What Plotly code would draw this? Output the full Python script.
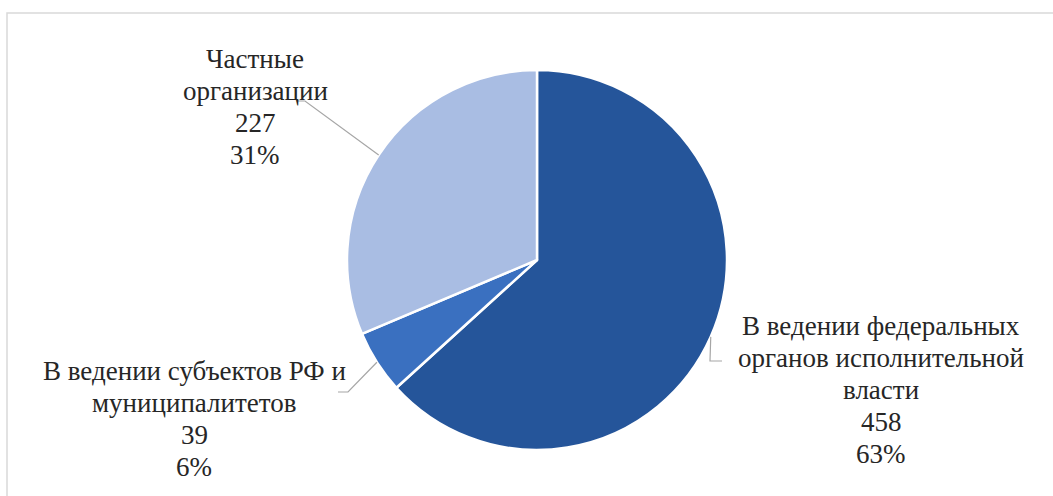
import math
import plotly.graph_objects as go

# ---- data ----
categories = [
    "В ведении федеральных органов исполнительной власти",
    "В ведении субъектов РФ и муниципалитетов",
    "Частные организации",
]
label_lines = [
    ["В ведении федеральных", "органов исполнительной", "власти"],
    ["В ведении субъектов РФ и", "муниципалитетов"],
    ["Частные", "организации"],
]
values = [458, 39, 227]
percent_labels = ["63%", "6%", "31%"]

# ---- style ----
colors = ["#25559A", "#3A70C0", "#A9BDE3"]
W, H = 1053, 496
CX, CY, R = 537, 260, 190
FONT = "Liberation Serif"
FS = 27
LINE_H = 32
TEXT_COL = "#262626"

def px(x):
    return x / W

def py(y):
    return 1 - y / H

fig = go.Figure(
    go.Pie(
        labels=categories,
        values=values,
        sort=False,
        direction="clockwise",
        rotation=0,
        marker=dict(colors=colors, line=dict(color="white", width=2.5)),
        textinfo="none",
        hoverinfo="label+value+percent",
        showlegend=False,
        domain=dict(x=[px(CX - R), px(CX + R)], y=[py(CY + R), py(CY - R)]),
    )
)

label_pos = [(881, 326), (194, 371), (255, 59)]
elbows = [
    [(710, 361), (722, 361)],
    [(348, 392), (338, 392)],
    [(305, 101), (298, 101)],
]

total = sum(values)
cum = 0
annotations = []
shapes = []
for i, v in enumerate(values):
    mid = (cum + v / 2) / total
    cum += v
    ang = 2 * math.pi * mid
    ex = CX + R * math.sin(ang)
    ey = CY - R * math.cos(ang)
    pts = [(ex, ey)] + elbows[i]
    path = "M " + " L ".join(f"{px(a)},{py(b)}" for a, b in pts)
    shapes.append(dict(type="path", xref="paper", yref="paper", path=path,
                       line=dict(color="#A6A6A6", width=1.2)))
    lines = label_lines[i] + [str(v), percent_labels[i]]
    lx, ly = label_pos[i]
    for k, t in enumerate(lines):
        annotations.append(dict(
            x=px(lx), y=py(ly + k * LINE_H), xref="paper", yref="paper",
            text=f"<span style='font-family:\"{FONT}\", \"DejaVu Serif\", serif'>{t}</span>",
            showarrow=False, xanchor="center", yanchor="middle",
            font=dict(family=FONT, size=FS, color=TEXT_COL),
        ))

shapes.append(dict(type="rect", xref="paper", yref="paper",
                   x0=px(7), y0=-0.05, x1=1.05, y1=py(13),
                   line=dict(color="#D9D9D9", width=1.5), layer="below"))

fig.update_layout(
    width=W, height=H,
    margin=dict(l=0, r=0, t=0, b=0),
    paper_bgcolor="white", plot_bgcolor="white",
    annotations=annotations, shapes=shapes,
)

fig.write_html("out.html", config={"displayModeBar": False},
               post_script="document.body.style.margin='0';document.body.style.padding='0';")
